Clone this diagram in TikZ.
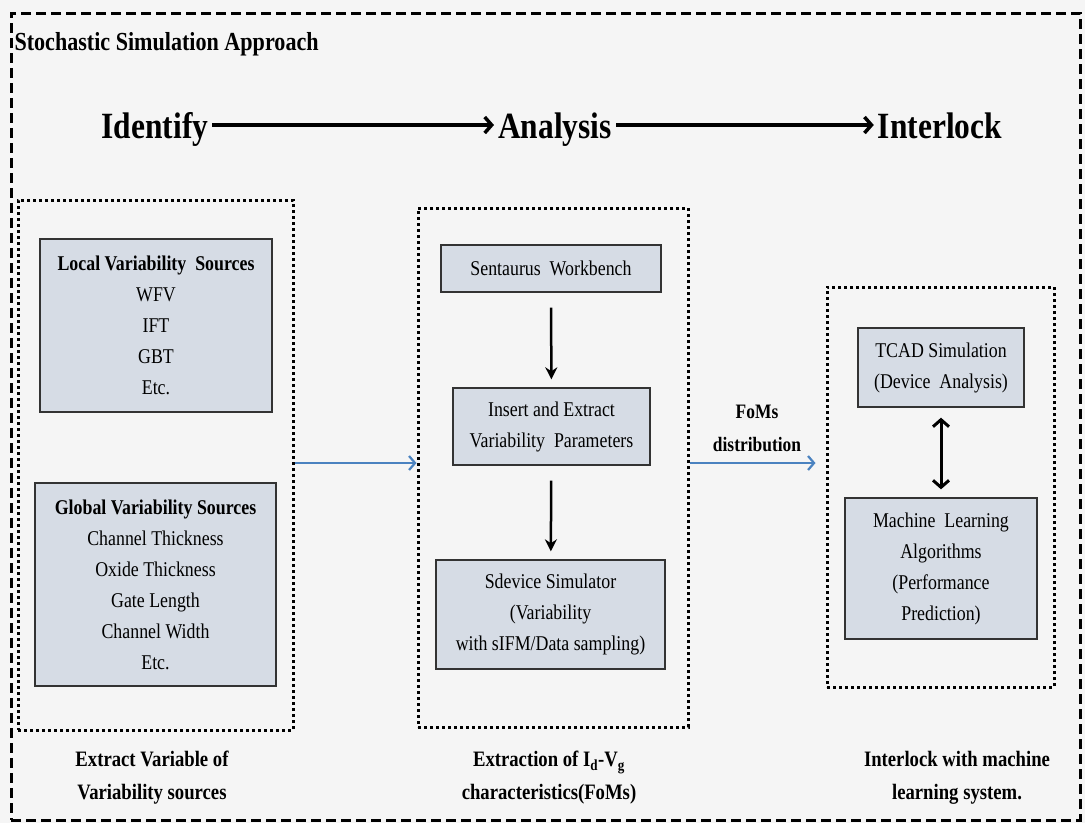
\documentclass[tikz,border=0pt]{standalone}
\usepackage{fontspec}
\setmainfont{Liberation Serif}[FakeStretch=0.85]
\usepackage{tikz}
\usetikzlibrary{arrows.meta}

\definecolor{boxfill}{HTML}{D6DCE5}
\definecolor{flowblue}{HTML}{4A82C0}
\definecolor{pagebg}{HTML}{F5F5F5}

\begin{document}
\begin{tikzpicture}[x=1pt,y=-1pt]
        \tikzstyle{srcbox}=[draw=black!80, line width=1.4pt, fill=boxfill, align=center, inner sep=0pt,
                font=\fontsize{21}{31}\selectfont];
        \tikzstyle{stage}=[draw, line width=3pt, dash pattern=on 3pt off 3pt, inner sep=0pt];
        \tikzstyle{phase}=[font=\fontsize{37}{40}\selectfont\bfseries, text height=30pt, text depth=4pt, inner sep=4pt];
        \tikzstyle{caption}=[align=center, font=\fontsize{22}{33}\selectfont\bfseries];
        \tikzstyle{arrow}=[-{Straight Barb[length=7pt,width=16pt]}, line width=3.5pt];
        \tikzstyle{flow}=[-{Straight Barb[length=6pt,width=14pt]}, line width=2.2pt, flowblue];
        \tikzstyle{down}=[-{Stealth[length=12pt,width=12pt]}, line width=2.5pt];
        \useasboundingbox [fill=pagebg] (0,0) rectangle (1085,823);
        \node (frame) [draw, line width=3pt, dash pattern=on 10pt off 5pt, inner sep=0pt,
                minimum width=1069pt, minimum height=807pt] at (545.5,416.5) {};
        \node (title) [anchor=west, font=\fontsize{26}{28}\selectfont\bfseries] at (11,44) {Stochastic Simulation Approach};

        % phases
        \node (identify) [phase] at (155,125) {Identify};
        \node (analysis) [phase] at (555,125) {Analysis};
        \node (interlock) [phase] at (940,125) {Interlock};
        \draw [arrow] (identify) -- (analysis);
        \draw [arrow] (analysis) -- (interlock);

        % identify stage
        \node (left) [stage, minimum width=275pt, minimum height=530pt] at (155.5,465) {};
        \node (local) [srcbox, minimum width=232pt, minimum height=173pt] at (156,325.5)
                {\textbf{Local Variability\ \ Sources}\\WFV\\IFT\\GBT\\Etc.};
        \node (global) [srcbox, minimum width=241pt, minimum height=203pt] at (155.5,584.5)
                {\textbf{Global Variability Sources}\\Channel Thickness\\Oxide Thickness\\Gate Length\\Channel Width\\Etc.};

        % analysis stage
        \node (mid) [stage, minimum width=270pt, minimum height=519pt] at (553,467.5) {};
        \node (sentaurus) [srcbox, minimum width=220pt, minimum height=47pt] at (551,268.5) {Sentaurus\ \ Workbench};
        \node (insert) [srcbox, minimum width=197pt, minimum height=77pt] at (551.5,426.5)
                {Insert and Extract\\Variability\ \ Parameters};
        \node (sdevice) [srcbox, minimum width=229pt, minimum height=109pt] at (550.5,614.5)
                {Sdevice Simulator\\(Variability\\with sIFM/Data sampling)};
        \draw [down, shorten <=15pt, shorten >=8pt] (sentaurus) -- (insert);
        \draw [down, shorten <=15pt, shorten >=8pt] (insert) -- (sdevice);

        % interlock stage
        \node (right) [stage, minimum width=227pt, minimum height=400pt] at (940.5,487) {};
        \node (tcad) [srcbox, minimum width=166pt, minimum height=79pt] at (941,367.5)
                {TCAD Simulation\\(Device\ \ Analysis)};
        \node (ml) [srcbox, minimum width=192pt, minimum height=141pt] at (941,568.5)
                {Machine\ \ Learning\\Algorithms\\(Performance\\Prediction)};
        \draw [{Straight Barb[length=7pt,width=16pt]}-{Straight Barb[length=7pt,width=16pt]}, line width=3pt,
                shorten <=10pt, shorten >=8pt] (tcad) -- (ml);

        % flows between stages
        \draw [flow] (left.east |- 0,463) -- (mid.west |- 0,463);
        \draw [flow, shorten >=10pt] (mid.east |- 0,463) -- (right.west |- 0,463);
        \node (foms) [caption, font=\fontsize{20.5}{33}\selectfont\bfseries] at (757,428) {FoMs\\distribution};

        % captions
        \node (capleft) [caption] at (152,778) {Extract Variable of\\Variability sources};
        \node (capmid) [caption] at (549,778) {Extraction of I\textsubscript{d}-V\textsubscript{g}\\characteristics(FoMs)};
        \node (capright) [caption] at (957,778) {Interlock with machine\\learning system.};
\end{tikzpicture}
\end{document}
